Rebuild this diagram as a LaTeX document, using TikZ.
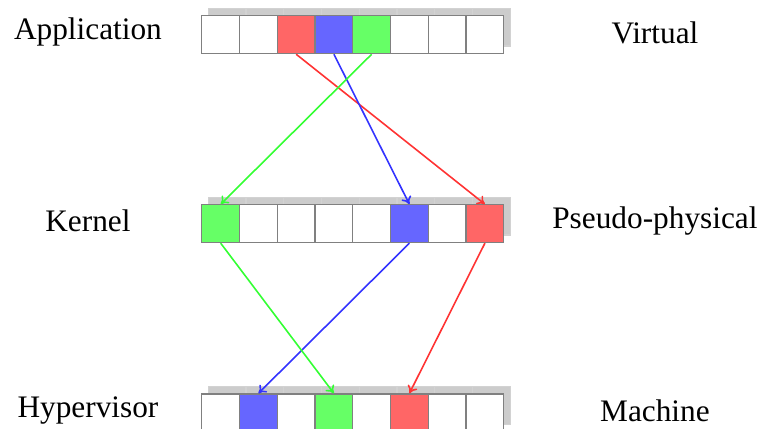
\documentclass[tikz,border=0pt]{standalone}
\usepackage{fontspec}
\setmainfont{Liberation Serif}
\usetikzlibrary{positioning,arrows.meta}

\begin{document}
\begin{tikzpicture}[x=1cm,y=1cm,
    cell/.style={draw=gray,line width=0.9pt,minimum size=1cm,inner sep=0pt,anchor=north west},
    shadowcell/.style={draw=gray!35,fill=gray!40,line width=0.9pt},
    label/.style={font=\fontsize{23.6}{28}\selectfont,inner sep=0pt},
    map/.style={-{To[length=2mm,width=2.8mm]},line width=1.2pt}]
\newcommand*{\tblleft}{5.33}
\newcommand*{\sh}{0.185}
\useasboundingbox (0,0) rectangle (20.16,-11.34);

% shadows behind the three page tables
\foreach \y in {-0.405,-5.41,-10.42}
  \foreach \x in {0,...,7}
  {
    \draw[shadowcell] (\tblleft+\x+\sh,\y+\sh) rectangle +(1,-1);
  }

% virtual pages
\foreach \c [count=\i from 0] in {white,white,red!60,blue!60,green!60,white,white,white}
  \node[cell,fill=\c] (v\i) at (\tblleft+\i,-0.405) {};
% pseudo-physical pages
\foreach \c [count=\i from 0] in {green!60,white,white,white,white,blue!60,white,red!60}
  \node[cell,fill=\c] (p\i) at (\tblleft+\i,-5.41) {};
% machine pages
\foreach \c [count=\i from 0] in {white,blue!60,white,green!60,white,red!60,white,white}
  \node[cell,fill=\c] (m\i) at (\tblleft+\i,-10.42) {};

\node[label] (app) at (2.33,-0.86) {Application};
\node[label] (kern) at (2.33,-5.86) {Kernel};
\node[label] (hyp) at (2.33,-10.87) {Hypervisor};
\node[label] (virt) at (17.35,-0.86) {Virtual};
\node[label] (pseudo) at (17.35,-5.86) {Pseudo-physical};
\node[label] (mach) at (17.35,-10.87) {Machine};

\draw[map,red!80] (v2.south) -- (p7.north);
\draw[map,blue!80] (v3.south) -- (p5.north);
\draw[map,green!80] (v4.south) -- (p0.north);
\draw[map,red!80] (p7.south) -- (m5.north);
\draw[map,blue!80] (p5.south) -- (m1.north);
\draw[map,green!80] (p0.south) -- (m3.north);
\end{tikzpicture}
\end{document}
